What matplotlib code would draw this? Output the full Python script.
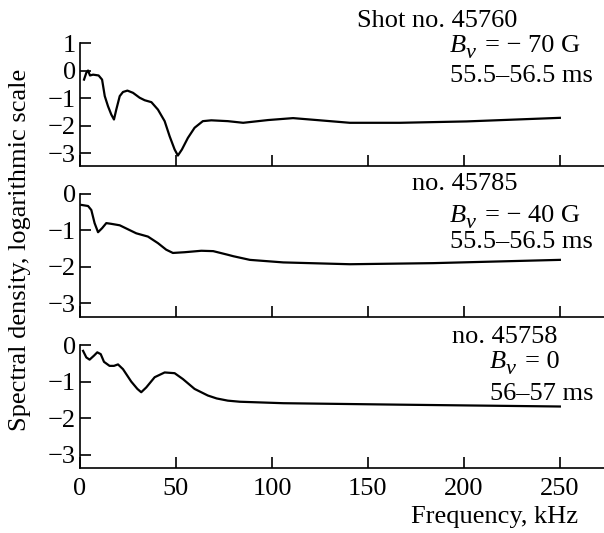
import numpy as np
import matplotlib
matplotlib.use("Agg")
import matplotlib.pyplot as plt

plt.rcParams['font.family'] = ['Liberation Serif', 'DejaVu Serif']
plt.rcParams['font.size'] = 19

# shot 45760, Bv = -70 G
f1 = [2.1, 3.3, 4.2, 5.2, 6.8, 9.7, 11.5, 12.9, 14.6, 16.3, 17.7, 18.9, 20.7, 22.4, 24.7,
      27.6, 31.1, 33.7, 37.2, 40.6, 44.1, 46.7, 49.3, 51.0, 53.1, 56.2, 59.7, 64.0, 68.4,
      77, 85, 98, 111, 123.3, 140.6, 166.7, 201.4, 250]
s1 = [-0.33, -0.08, 0.0, -0.18, -0.15, -0.18, -0.33, -0.93, -1.3, -1.6, -1.78, -1.42, -0.93, -0.78, -0.73,
      -0.81, -0.99, -1.08, -1.15, -1.42, -1.84, -2.39, -2.87, -3.09, -2.87, -2.45, -2.08, -1.84, -1.81,
      -1.84, -1.9, -1.8, -1.73, -1.8, -1.9, -1.9, -1.85, -1.72]

# shot 45785, Bv = -40 G
f2 = [0.7, 4.2, 5.9, 7.6, 9.4, 11.5, 13.7, 16.3, 20.7, 25, 29.3, 35.4, 40.6, 44.9, 48.4,
      54.5, 63.2, 69.4, 77, 79.9, 88.5, 105.9, 140.6, 184, 250]
s2 = [-0.3, -0.33, -0.44, -0.8, -1.05, -0.94, -0.8, -0.82, -0.86, -0.97, -1.08, -1.17, -1.35, -1.53, -1.62,
      -1.6, -1.56, -1.57, -1.67, -1.71, -1.81, -1.88, -1.93, -1.9, -1.81]

# shot 45758, Bv = 0
f3 = [1.6, 3.3, 5, 7.3, 9, 10.8, 12.5, 15.4, 17.7, 19.8, 22.4, 26.7, 29.9, 31.9, 34.5,
      38.9, 44.1, 49.3, 53.6, 59.7, 66.6, 71.2, 77, 83.3, 105.9, 166.7, 250]
s3 = [-0.16, -0.34, -0.4, -0.29, -0.2, -0.25, -0.46, -0.57, -0.57, -0.53, -0.66, -1.0, -1.2, -1.29, -1.16,
      -0.88, -0.75, -0.77, -0.93, -1.2, -1.38, -1.46, -1.52, -1.55, -1.59, -1.63, -1.68]

W, H = 604, 533
fig = plt.figure(figsize=(W / 100, H / 100), dpi=100)

def px(x, y):
    return x / W, 1 - y / H

panels = [
    (f1, s1, 166, (-3.47, 1), [1, 0, -1, -2, -3]),
    (f2, s2, 317, (-3.38, 0), [0, -1, -2, -3]),
    (f3, s3, 468, (-3.36, 0), [0, -1, -2, -3]),
]
for i, (f, s, bot, yl, yt) in enumerate(panels):
    ax = fig.add_axes([80 / W, 1 - bot / H, 524 / W, 123 / H])
    ax.plot(f, s, color='black', lw=1.6, solid_joinstyle='round')
    ax.set_xlim(0, 273)
    ax.set_ylim(*yl)
    ax.set_yticks(yt)
    ax.set_xticks([0, 50, 100, 150, 200, 250])
    ax.spines['top'].set_visible(False)
    ax.spines['right'].set_visible(False)
    for sp in ('left', 'bottom'):
        ax.spines[sp].set_linewidth(1.2)
    ax.tick_params(direction='in', length=8, width=1.2, pad=3)
    ax.tick_params(axis='x', pad=7)
    ax.patch.set_visible(False)
    if i < 2:
        ax.set_xticklabels([])

fig.text(*px(20, 250), 'Spectral density, logarithmic scale', rotation=90, ha='center', va='center')
fig.text(*px(495, 523), 'Frequency, kHz', ha='center', va='baseline')

labels = [
    (357, 27, 'Shot no. 45760'), (450, 82, '55.5–56.5 ms'),
    (412, 190, 'no. 45785'), (450, 248, '55.5–56.5 ms'),
    (452, 343, 'no. 45758'), (490, 400, '56–57 ms'),
]
for x, y, t in labels:
    fig.text(*px(x, y), t, ha='left', va='baseline')

# B_v labels with a large, low subscript as in the original
bv = [(450, 52, '= − 70 G'), (450, 222, '= − 40 G'), (490, 368, '= 0')]
for x, y, t in bv:
    fig.text(*px(x, y), 'B', style='italic', ha='left', va='baseline')
    fig.text(*px(x + 16, y + 6), 'v', style='italic', fontsize=16, ha='left', va='baseline')
    fig.text(*px(x + 35, y), t, ha='left', va='baseline')

fig.savefig('out.png', dpi=100)
